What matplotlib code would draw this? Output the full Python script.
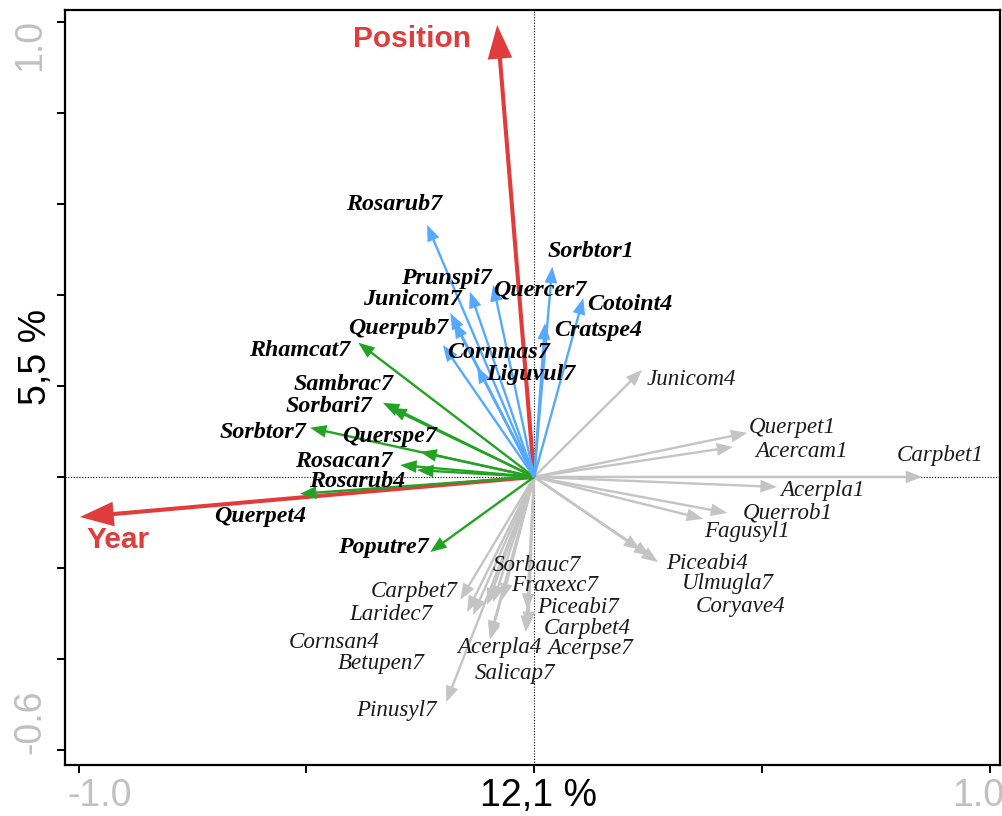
import numpy as np
import matplotlib
matplotlib.use("Agg")
import matplotlib.pyplot as plt

# arrow tips (axis 1, axis 2)
blue_names = ["Rosarub7", "Prunspi7", "Junicom7", "Querpub7", "Quercer7",
              "Cornmas7", "Liguvul7", "Sorbtor1", "Cotoint4", "Cratspe4"]
blue_x = [-0.235, -0.141, -0.184, -0.176, -0.090, -0.200, -0.125, 0.040, 0.108, 0.024]
blue_y = [0.554, 0.407, 0.360, 0.341, 0.422, 0.290, 0.242, 0.462, 0.393, 0.338]

green_names = ["Rhamcat7", "Sambrac7", "Sorbari7", "Sorbtor7", "Querspe7",
               "Rosacan7", "Querpet4", "Rosarub4", "Poputre7"]
green_x = [-0.386, -0.332, -0.316, -0.492, -0.250, -0.294, -0.257, -0.514, -0.228]
green_y = [0.295, 0.163, 0.152, 0.108, 0.055, 0.026, 0.015, -0.037, -0.165]

grey_names = ["Junicom4", "Querpet1", "Acercam1", "Carpbet1", "Acerpla1",
              "Querrob1", "Fagusyl1", "Piceabi4", "Ulmugla7", "Coryave4",
              "Sorbauc7", "Fraxexc7", "Piceabi7", "Carpbet4", "Acerpse7",
              "Acerpla4", "Salicap7", "Carpbet7", "Laridec7", "Cornsan4",
              "Betupen7", "Pinusyl7"]
grey_x = [0.237, 0.468, 0.437, 0.852, 0.533, 0.424, 0.371, 0.272, 0.255, 0.233,
          -0.090, -0.070, -0.015, -0.018, -0.013, -0.103, -0.097, -0.162, -0.147,
          -0.134, -0.097, -0.193]
grey_y = [0.235, 0.097, 0.066, 0.0, -0.022, -0.079, -0.092, -0.187, -0.174, -0.160,
          -0.275, -0.270, -0.292, -0.341, -0.332, -0.281, -0.358, -0.270, -0.297,
          -0.303, -0.352, -0.495]

env_names = ["Position", "Year"]
env_x = [-0.081, -0.997]
env_y = [0.993, -0.088]

# where the labels sit (layout)
blue_lab = [(-0.307, 0.598), (-0.193, 0.437), (-0.268, 0.389), (-0.299, 0.327),
            (0.013, 0.411), (-0.077, 0.273), (-0.007, 0.226), (0.125, 0.495),
            (0.211, 0.378), (0.141, 0.321)]
green_lab = [(-0.514, 0.277), (-0.419, 0.202), (-0.450, 0.154), (-0.595, 0.097),
             (-0.318, 0.088), (-0.419, 0.033), (-0.602, -0.088), (-0.389, -0.011),
             (-0.332, -0.156)]
grey_lab = [(0.345, 0.213), (0.566, 0.108), (0.588, 0.055), (0.891, 0.048),
            (0.634, -0.029), (0.558, -0.079), (0.468, -0.121), (0.380, -0.191),
            (0.426, -0.235), (0.454, -0.284), (0.007, -0.194), (0.044, -0.238),
            (0.097, -0.287), (0.116, -0.333), (0.123, -0.377), (-0.077, -0.374),
            (-0.042, -0.431), (-0.263, -0.251), (-0.314, -0.303), (-0.439, -0.363),
            (-0.336, -0.411), (-0.303, -0.514)]
env_lab = [(-0.268, 0.962), (-0.913, -0.138)]

BLUE = "#55aaff"
GREEN = "#22a322"
GREY = "#c4c4c4"
RED = "#e03c3c"

fig = plt.figure(figsize=(10.03, 8.16), dpi=100)
ax = fig.add_axes([65 / 1003, 1 - 765 / 816, 935 / 1003, 755 / 816])
ax.set_xlim(-1.03, 1.023)
ax.set_ylim(-0.633, 1.026)

ax.axhline(0, color="black", lw=0.8, ls=(0, (1, 1.5)), zorder=1)
ax.axvline(0, color="black", lw=0.8, ls=(0, (1, 1.5)), zorder=1)


def arrows(xs, ys, color, w=0.0052, hw=0.028, hl=0.036, z=2):
    for x, y in zip(xs, ys):
        ax.arrow(0, 0, x, y, width=w, head_width=hw, head_length=hl,
                 length_includes_head=True, color=color, lw=0, zorder=z)


arrows(grey_x, grey_y, GREY, z=2)
arrows(env_x, env_y, RED, w=0.009, hw=0.054, hl=0.074, z=3)
arrows(green_x, green_y, GREEN, z=4)
arrows(blue_x, blue_y, BLUE, z=5)

for name, (lx, ly) in zip(grey_names, grey_lab):
    ax.text(lx, ly, name, family="Liberation Serif", style="italic", fontsize=16.6,
            color="#1a1a1a", ha="center", va="center", zorder=6)
for name, (lx, ly) in zip(blue_names + green_names, blue_lab + green_lab):
    ax.text(lx, ly, name, family="Liberation Serif", style="italic", weight="bold",
            fontsize=17.3, color="black", ha="center", va="center", zorder=6)
for name, (lx, ly) in zip(env_names, env_lab):
    ax.text(lx, ly, name, family="Liberation Sans", weight="bold", fontsize=21.5,
            color=RED, ha="center", va="center", zorder=6)

ax.set_xticks([-1, -0.5, 0, 0.5, 1])
ax.set_yticks([-0.6, -0.4, -0.2, 0, 0.2, 0.4, 0.6, 0.8, 1.0])
ax.set_xticklabels([])
ax.set_yticklabels([])
ax.tick_params(direction="out", length=6, width=1.4, color="black")
for s in ax.spines.values():
    s.set_linewidth(1.6)

tl = dict(family="Liberation Sans", fontsize=27, color="#c0c0c0",
          ha="center", va="center")
fig.text(100 / 1003, 1 - 796 / 816, "-1.0", **tl)
fig.text(978 / 1003, 1 - 796 / 816, "1.0", **tl)
fig.text(30 / 1003, 1 - 45 / 816, "1.0", rotation=90, **tl)
fig.text(30 / 1003, 1 - 722 / 816, "-0.6", rotation=90, **tl)
fig.text(539 / 1003, 1 - 796 / 816, "12,1 %", family="Liberation Sans",
         fontsize=27, color="black", ha="center", va="center")
fig.text(36 / 1003, 1 - 357 / 816, "5,5 %", family="Liberation Sans",
         fontsize=27, color="black", ha="center", va="center", rotation=90)

fig.savefig("out.png", dpi=100)
